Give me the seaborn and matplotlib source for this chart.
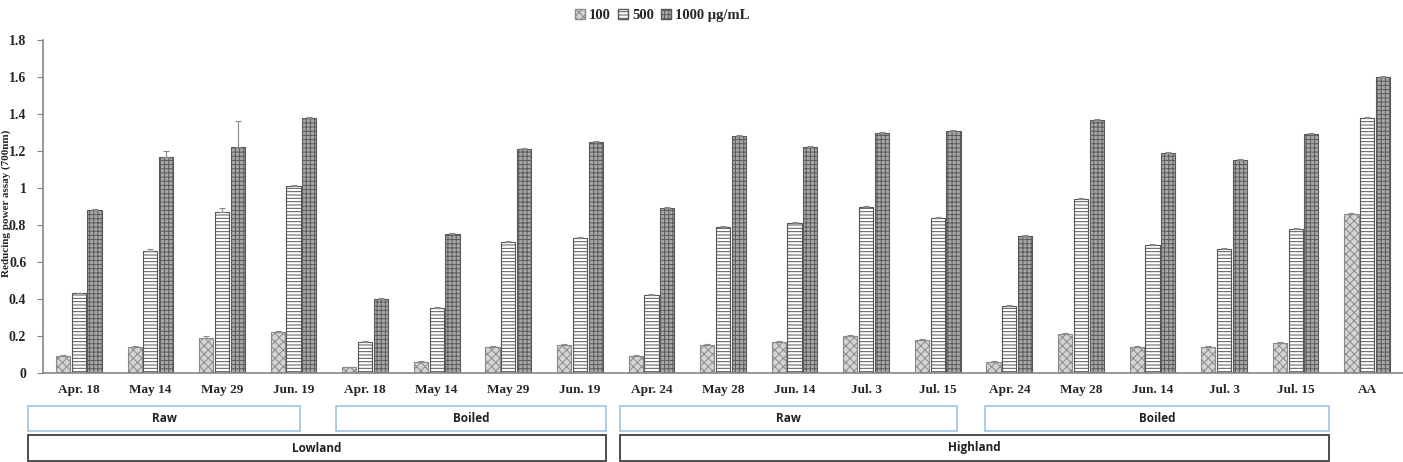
import numpy as np
import pandas as pd
import seaborn as sns
import matplotlib.pyplot as plt
from matplotlib.patches import Rectangle, Patch

dates = ["Apr. 18", "May 14", "May 29", "Jun. 19",
         "Apr. 18", "May 14", "May 29", "Jun. 19",
         "Apr. 24", "May 28", "Jun. 14", "Jul. 3", "Jul. 15",
         "Apr. 24", "May 28", "Jun. 14", "Jul. 3", "Jul. 15",
         "AA"]
concs = ["100", "500", "1000"]
v100 = [0.09, 0.14, 0.19, 0.22, 0.03, 0.06, 0.14, 0.15,
        0.09, 0.15, 0.17, 0.20, 0.18, 0.06, 0.21, 0.14, 0.14, 0.16, 0.86]
v500 = [0.43, 0.66, 0.87, 1.01, 0.17, 0.35, 0.71, 0.73,
        0.42, 0.79, 0.81, 0.90, 0.84, 0.36, 0.94, 0.69, 0.67, 0.78, 1.38]
v1000 = [0.88, 1.17, 1.22, 1.38, 0.40, 0.75, 1.21, 1.25,
         0.89, 1.28, 1.22, 1.30, 1.31, 0.74, 1.37, 1.19, 1.15, 1.29, 1.60]
e100 = [0.01, 0.005, 0.01, 0.005, 0.003, 0.005, 0.005, 0.005,
        0.005, 0.005, 0.005, 0.005, 0.005, 0.005, 0.005, 0.005, 0.005, 0.005, 0.005]
e500 = [0.005, 0.01, 0.02, 0.005, 0.005, 0.005, 0.005, 0.005,
        0.005, 0.005, 0.005, 0.005, 0.005, 0.005, 0.005, 0.005, 0.005, 0.005, 0.005]
e1000 = [0.005, 0.03, 0.14, 0.005, 0.005, 0.005, 0.005, 0.005,
         0.005, 0.005, 0.005, 0.005, 0.005, 0.005, 0.005, 0.005, 0.005, 0.005, 0.005]
ylabel = "Reducing power assay (700nm)"
group_rows = [("Raw", 28, 300), ("Boiled", 336, 606), ("Raw", 620, 957), ("Boiled", 985, 1329)]
site_rows = [("Lowland", 28, 606), ("Highland", 620, 1329)]

ids = [str(i) for i in range(len(dates))]
rows = []
for vals, c in zip([v100, v500, v1000], concs):
    for i, v in zip(ids, vals):
        rows.append({"sample": i, "conc": c, "value": v})
df = pd.DataFrame(rows)

sns.set_style("white")
plt.rcParams['font.family'] = ['Liberation Serif', 'DejaVu Serif']
plt.rcParams['hatch.linewidth'] = 0.7

W, H = 1403, 462
fig = plt.figure(figsize=(W / 100, H / 100), dpi=100)
ax = fig.add_axes([43 / W, 1 - 373 / H, (W - 43) / W, 333 / H])

styles = {
    "100": dict(fc="#d4d4d4", hatch="xxxx", ec="#8a8a8a"),
    "500": dict(fc="#ffffff", hatch="-----", ec="#555555"),
    "1000": dict(fc="#a8a8a8", hatch="++++", ec="#5a5a5a"),
}

sns.barplot(data=df, x="sample", y="value", hue="conc", order=ids, hue_order=concs,
            palette={c: styles[c]["fc"] for c in concs}, width=0.66, gap=0.1,
            errorbar=None, legend=False, ax=ax, linewidth=0.8)

for cont, c, errs in zip(ax.containers, concs, [e100, e500, e1000]):
    st = styles[c]
    for bar, err in zip(cont, errs):
        bar.set_facecolor(st["fc"])
        bar.set_edgecolor(st["ec"])
        bar.set_hatch(st["hatch"])
        x = bar.get_x() + bar.get_width() / 2
        y = bar.get_height()
        ax.errorbar(x, y, yerr=[[0], [err]], fmt="none", ecolor="#8a8a8a",
                    elinewidth=0.8, capsize=2, capthick=0.8)

ax.set_xlim(-0.5, len(dates) - 0.5)
ax.set_ylim(0, 1.8)
yt = np.round(np.arange(0, 1.81, 0.2), 1)
ax.set_yticks(yt)
ax.set_yticklabels([("%g" % t) for t in yt], fontsize=10, fontweight="bold")
ax.set_xticks(range(len(dates)))
ax.set_xticklabels(dates, fontsize=9.5, fontweight="bold")
ax.set_xlabel("")
ax.set_ylabel("")
ax.tick_params(axis="x", length=0, pad=8)
ax.tick_params(axis="y", length=4, direction="out", color="#868686", left=True, pad=8)
for s in ["top", "right"]:
    ax.spines[s].set_visible(False)
for s in ["left", "bottom"]:
    ax.spines[s].set_color("#868686")
    ax.spines[s].set_linewidth(1.2)

fig.text(6 / W, 0.56, ylabel, rotation=90, ha="center", va="center",
         fontsize=8, fontweight="bold")

handles = [Patch(facecolor=styles[c]["fc"], edgecolor=styles[c]["ec"], hatch=styles[c]["hatch"])
           for c in concs]
labels = ["100", "500", "1000 μg/mL"]
fig.legend(handles, labels, loc="upper center", bbox_to_anchor=(0.472, 1.01), ncol=3,
           frameon=False, prop={"weight": "bold", "size": 10.5}, handlelength=0.7,
           handleheight=0.7, handletextpad=0.25, columnspacing=0.5)

for name, x0, x1 in group_rows:
    fig.patches.append(Rectangle((x0 / W, 1 - 431 / H), (x1 - x0) / W, 25 / H,
                                 transform=fig.transFigure, fill=False,
                                 edgecolor="#9dc3e6", linewidth=1.2))
    fig.text((x0 + x1) / 2 / W, 1 - 418.5 / H, name, ha="center", va="center",
             fontsize=8.5, family="Open Sans", fontweight="bold", color="#222222")
for name, x0, x1 in site_rows:
    fig.patches.append(Rectangle((x0 / W, 1 - 461 / H), (x1 - x0) / W, 26 / H,
                                 transform=fig.transFigure, fill=False,
                                 edgecolor="#404040", linewidth=1.3))
    fig.text((x0 + x1) / 2 / W, 1 - 448 / H, name, ha="center", va="center",
             fontsize=8.5, family="Open Sans", fontweight="bold", color="#222222")

fig.savefig("out.png", dpi=100)
